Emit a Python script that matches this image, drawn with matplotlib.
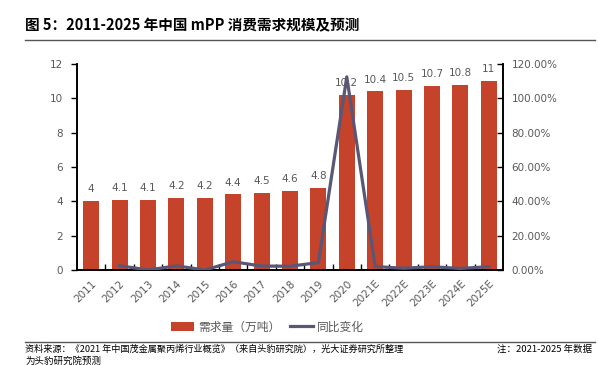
import matplotlib
matplotlib.use('Agg')
import matplotlib.pyplot as plt
import numpy as np
from matplotlib.ticker import FuncFormatter, FixedLocator

plt.rcParams['font.family'] = ['Noto Sans CJK SC', 'DejaVu Sans']

years = ['2011', '2012', '2013', '2014', '2015', '2016', '2017', '2018', '2019', '2020',
         '2021E', '2022E', '2023E', '2024E', '2025E']
demand = [4, 4.1, 4.1, 4.2, 4.2, 4.4, 4.5, 4.6, 4.8, 10.2, 10.4, 10.5, 10.7, 10.8, 11]
yoy = [np.nan, 0.025, 0.0, 0.024, 0.0, 0.048, 0.023, 0.022, 0.043, 1.125,
       0.020, 0.010, 0.019, 0.009, 0.019]

bar_color = '#C5432A'
line_color = '#5A5675'
txt_gray = '#595959'

fig = plt.figure(figsize=(5.99, 3.65), dpi=100)
ax = fig.add_axes([0.1285, 0.2603, 0.7112, 0.5644])
ax2 = ax.twinx()

x = np.arange(len(years))
bars = ax.bar(x, demand, width=0.56, color=bar_color, label='需求量（万吨）', zorder=2)
for xi, v in zip(x, demand):
    ax.annotate(f'{v:g}', (xi, v), xytext=(0, 5), textcoords='offset points',
                ha='center', va='bottom', fontsize=7.5, color=txt_gray, family='DejaVu Sans')

ln, = ax2.plot(x, yoy, color=line_color, lw=2.3, label='同比变化', zorder=3)

ax.set_xlim(-0.5, len(years) - 0.5)
ax.set_ylim(0, 12)
ax.set_yticks(range(0, 13, 2))
ax2.set_ylim(0, 1.2)
ax2.set_yticks(np.arange(0, 1.21, 0.2))
ax2.yaxis.set_major_formatter(FuncFormatter(lambda v, p: f'{v * 100:.2f}%'))

ax.set_xticks(x)
ax.set_xticklabels(years, rotation=45, ha='right', va='top', rotation_mode='anchor',
                   fontsize=7.5, color=txt_gray, family='DejaVu Sans')
ax.tick_params(axis='x', which='major', length=0, pad=6)
ax.xaxis.set_minor_locator(FixedLocator(np.arange(0.5, len(years) - 1, 1)))
ax.tick_params(axis='x', which='minor', direction='in', length=4, width=1, color='black')
ax.tick_params(axis='y', direction='out', length=4, width=1, labelsize=7.5,
               labelcolor=txt_gray, pad=6)
ax2.tick_params(axis='y', direction='in', length=4, width=1, labelsize=7.5,
                labelcolor=txt_gray, pad=6)
for lab in ax.get_yticklabels() + ax2.get_yticklabels():
    lab.set_family('DejaVu Sans')

for a in (ax, ax2):
    a.spines['top'].set_visible(False)
    for s in ('left', 'right', 'bottom'):
        a.spines[s].set_color('black')
        a.spines[s].set_linewidth(1.2)

fig.legend([bars, ln], ['需求量（万吨）', '同比变化'], loc='center', ncol=2,
           bbox_to_anchor=(0.446, 0.104), frameon=False, fontsize=8.5,
           handlelength=2.0, handleheight=0.8, columnspacing=0.8, handletextpad=0.3,
           labelcolor=txt_gray)

fig.text(0.042, 0.932, '图 5：2011-2025 年中国 mPP 消费需求规模及预测', fontsize=10.5,
         fontweight='bold', ha='left', va='center', color='black')
fig.add_artist(plt.Line2D([0.042, 0.993], [0.89, 0.89], color='#555555', lw=1.0))
fig.add_artist(plt.Line2D([0.042, 0.993], [0.063, 0.063], color='#555555', lw=1.0))
fig.text(0.042, 0.043, '资料来源：《2021 年中国茂金属聚丙烯行业概览》（来自头豹研究院），光大证券研究所整理',
         fontsize=6.6, ha='left', va='center', color='black')
fig.text(0.988, 0.043, '注：2021-2025 年数据', fontsize=6.8, ha='right', va='center', color='black')
fig.text(0.042, 0.012, '为头豹研究院预测', fontsize=6.8, ha='left', va='center', color='black')

fig.savefig('out.png', dpi=100)
